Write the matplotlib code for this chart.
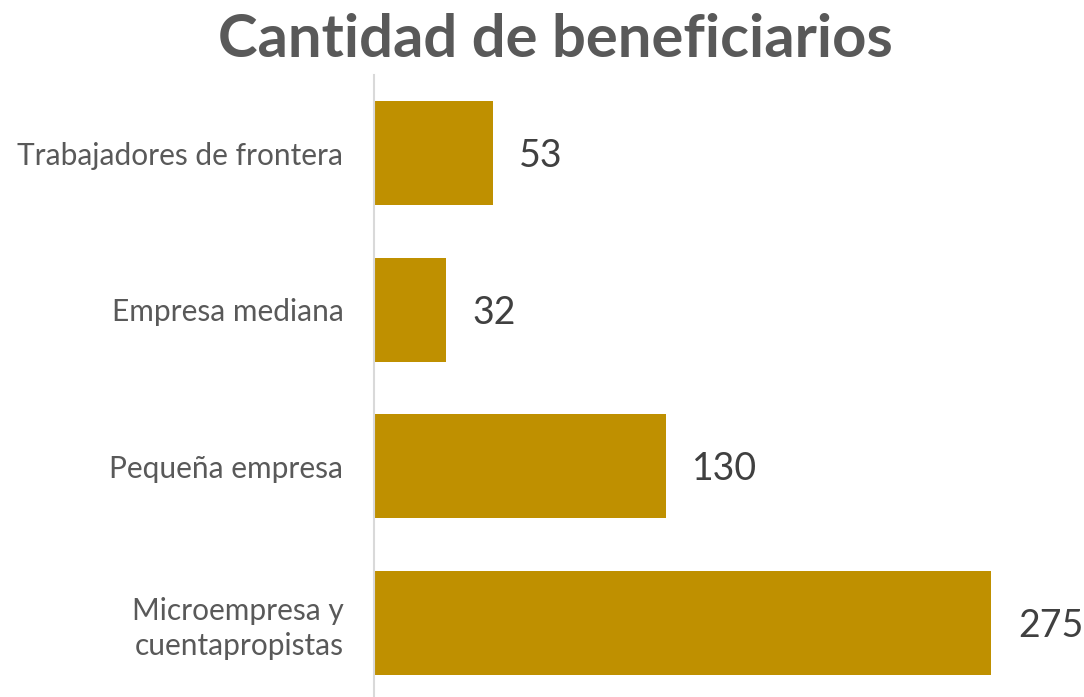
import matplotlib.pyplot as plt

# Data
categorias = ["Trabajadores de frontera", "Empresa mediana", "Pequeña empresa",
              "Microempresa y\ncuentapropistas"]
beneficiarios = [53, 32, 130, 275]

color_barra = "#BF9000"
gris_texto = "#595959"

plt.rcParams['font.family'] = ['Lato', 'DejaVu Sans']

fig = plt.figure(figsize=(10.84, 6.97), dpi=100)
ax = fig.add_axes([374 / 1084, 0, 710 / 1084, 622 / 697])

pos = list(range(len(categorias)))
ax.barh(pos, beneficiarios, height=0.665, color=color_barra)

ax.set_ylim(3.473, -0.5)
ax.set_xlim(0, 710 / 2.245)

ax.set_yticks(pos)
ax.set_yticklabels(categorias, fontsize=21.5, color=gris_texto, ha="right",
                   linespacing=1.3)
ax.tick_params(axis="y", length=0, pad=22)
ax.set_xticks([])

for s in ["top", "right", "bottom"]:
    ax.spines[s].set_visible(False)
ax.spines["left"].set_color("#D9D9D9")
ax.spines["left"].set_linewidth(1.5)

# Value labels
for p, v in zip(pos, beneficiarios):
    ax.annotate(str(v), xy=(v, p), xytext=(19, -2), textcoords="offset points",
                va="center", ha="left", fontsize=27, color="#404040")

fig.text(555 / 1084, 1 - 40 / 697, "Cantidad de beneficiarios", ha="center", va="center",
         fontsize=43, fontweight="bold", color=gris_texto)

fig.savefig("out.png", dpi=100)
